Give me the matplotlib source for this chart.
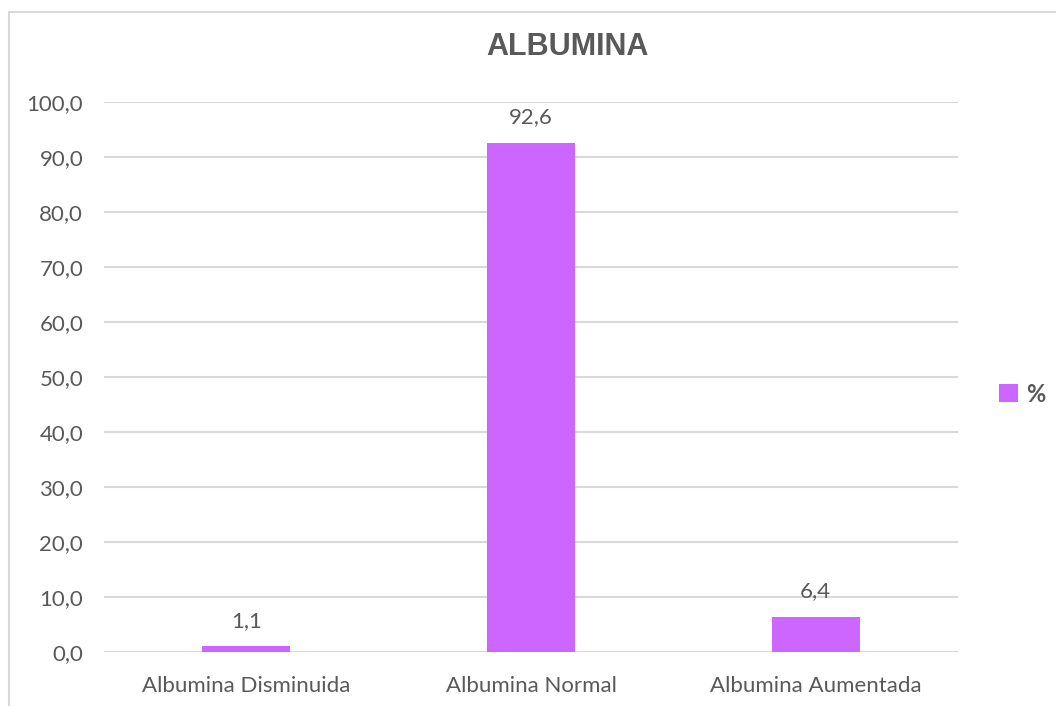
import matplotlib

matplotlib.use("Agg")
import matplotlib.pyplot as plt
from matplotlib.patches import Rectangle

categories = ["Albumina Disminuida", "Albumina Normal", "Albumina Aumentada"]
percent = [1.1, 92.6, 6.4]
yticks = [0, 10, 20, 30, 40, 50, 60, 70, 80, 90, 100]

BAR = "#CC66FF"
GRID = "#D9D9D9"
TXT = "#595959"

fig = plt.figure(figsize=(10.56, 7.06), dpi=100)
ax = fig.add_axes([104 / 1056, 1 - 652 / 706, 854 / 1056, 550 / 706])

# outer chart border (right/bottom edges fall outside the picture)
fig.patches.append(Rectangle((9 / 1056, -0.1), 1.2, 1.1 - 12 / 706,
                             transform=fig.transFigure, fill=False,
                             edgecolor=GRID, lw=1.5, zorder=0))

x = range(len(categories))
bars = ax.bar(x, percent, width=0.31, color=BAR, zorder=3, label="%")
for b, v in zip(bars, percent):
    ax.annotate(f"{v:.1f}".replace(".", ","), (b.get_x() + b.get_width() / 2, v),
                xytext=(0, 11), textcoords="offset points", ha="center",
                va="bottom", fontsize=16, color=TXT, family="Lato")

ax.set_xlim(-0.5, 2.5)
ax.set_ylim(0, 100)
ax.set_yticks(yticks)
ax.set_yticklabels([f"{t:.1f}".replace(".", ",") for t in yticks])
ax.set_xticks(list(x))
ax.set_xticklabels(categories)
ax.tick_params(length=0, labelsize=16, labelcolor=TXT)
ax.tick_params(axis="y", pad=15)
ax.tick_params(axis="x", pad=17)
for lab in ax.get_xticklabels() + ax.get_yticklabels():
    lab.set_family("Lato")
ax.yaxis.grid(True, color=GRID, lw=1.5, zorder=0)
for s in ax.spines.values():
    s.set_visible(False)

fig.text(567 / 1056, 1 - 47 / 706, "ALBUMINA", ha="center", va="center",
         fontsize=22, fontweight="bold", color=TXT, family="Liberation Sans")

fig.legend(handles=[bars], labels=["%"], loc="center left",
           bbox_to_anchor=(999 / 1056, 1 - 394 / 706), frameon=False,
           handlelength=0.8, handleheight=0.8, handletextpad=0.35,
           borderaxespad=0, borderpad=0,
           prop={"family": "Lato", "size": 17, "weight": "bold"},
           labelcolor=TXT)

fig.savefig("out.png", dpi=100)
